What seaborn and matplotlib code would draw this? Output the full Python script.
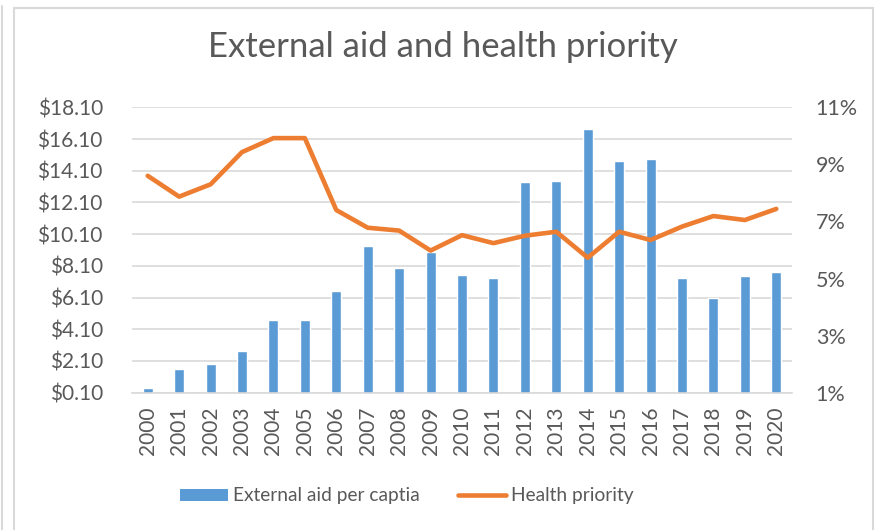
import numpy as np
import pandas as pd
import matplotlib
matplotlib.use("Agg")
import matplotlib.pyplot as plt
from matplotlib.lines import Line2D
from matplotlib.patches import Patch, Rectangle
import seaborn as sns

years = [str(y) for y in range(2000, 2021)]
aid_per_capita = [0.38, 1.61, 1.93, 2.71, 4.69, 4.69, 6.50, 9.36, 7.95, 9.00,
                  7.51, 7.32, 13.37, 13.48, 16.72, 14.74, 14.83, 7.36, 6.09, 7.48, 7.72]
health_priority = [8.60, 7.87, 8.30, 9.43, 9.92, 9.92, 7.40, 6.78, 6.68, 5.98,
                   6.52, 6.24, 6.50, 6.64, 5.73, 6.64, 6.35, 6.82, 7.19, 7.05, 7.44]
left_ticks = [0.1, 2.1, 4.1, 6.1, 8.1, 10.1, 12.1, 14.1, 16.1, 18.1]
right_ticks = [1, 3, 5, 7, 9, 11]

BLUE = "#5B9BD5"
ORANGE = "#ED7D31"
GRID = "#D9D9D9"
TEXT = "#595959"

sns.set_theme(style="white")
plt.rcParams["font.family"] = ["Lato", "DejaVu Sans"]

df = pd.DataFrame({"year": years, "aid": aid_per_capita,
                   "priority": health_priority, "pos": np.arange(len(years))})

W, H = 877, 530
fig = plt.figure(figsize=(W / 100, H / 100), dpi=100)
ax = fig.add_axes([132 / W, 1 - 392.7 / H, (792 - 132) / W, (392.7 - 107.3) / H])

sns.barplot(data=df, x="year", y="aid", color=BLUE, width=0.32,
            saturation=1, ax=ax, zorder=2)
ax.set_xlim(-0.5, len(years) - 0.5)
ax.set_ylim(left_ticks[0], left_ticks[-1])
ax.set_yticks(left_ticks)
ax.set_yticklabels([f"${v:.2f}" for v in left_ticks])
ax.yaxis.grid(True, color=GRID, linewidth=1.2, zorder=0)
ax.set_axisbelow(True)
ax.set_xlabel("")
ax.set_ylabel("")
for s in ["top", "right", "left"]:
    ax.spines[s].set_visible(False)
ax.spines["bottom"].set_color(GRID)
ax.spines["bottom"].set_linewidth(1.2)
ax.tick_params(axis="y", length=0, pad=21, labelsize=15, labelcolor=TEXT)
ax.tick_params(axis="x", length=0, pad=10, labelsize=15, labelcolor=TEXT,
               labelrotation=90)

ax2 = ax.twinx()
sns.lineplot(data=df, x="pos", y="priority", color=ORANGE, linewidth=3.3,
             ax=ax2, zorder=3)
ax2.set_xlim(-0.5, len(years) - 0.5)
ax2.set_ylim(right_ticks[0], right_ticks[-1])
ax2.set_yticks(right_ticks)
ax2.set_yticklabels([f"{v}%" for v in right_ticks])
ax2.set_ylabel("")
ax2.set_xlabel("")
for s in ax2.spines.values():
    s.set_visible(False)
ax2.grid(False)
ax2.tick_params(axis="y", length=0, pad=17, labelsize=15.5, labelcolor=TEXT)

fig.text(443 / W, 1 - 47 / H, "External aid and health priority", ha="center",
         va="center", fontsize=25, color=TEXT)

handles = [Patch(facecolor=BLUE, edgecolor="none"),
           Line2D([0], [0], color=ORANGE, linewidth=3.3, solid_capstyle="round")]
fig.legend(handles, ["External aid per captia", "Health priority"],
           loc="center", bbox_to_anchor=(407 / W, 1 - 496 / H), ncol=2,
           frameon=False, fontsize=13.8, labelcolor=TEXT, handlelength=2.5,
           handleheight=0.6, handletextpad=0.25, columnspacing=2.0)

# chart frame and the neighbouring border line
fig.add_artist(Rectangle((14.5 / W, -0.05), (873 - 14.5) / W, 1.05 - 8 / H,
                         transform=fig.transFigure, fill=False,
                         edgecolor=GRID, linewidth=1.5))
fig.add_artist(Line2D([1.5 / W, 1.5 / W], [0, 1 - 6 / H],
                      transform=fig.transFigure, color=GRID, linewidth=1.5))

fig.savefig("out.png", dpi=100)
